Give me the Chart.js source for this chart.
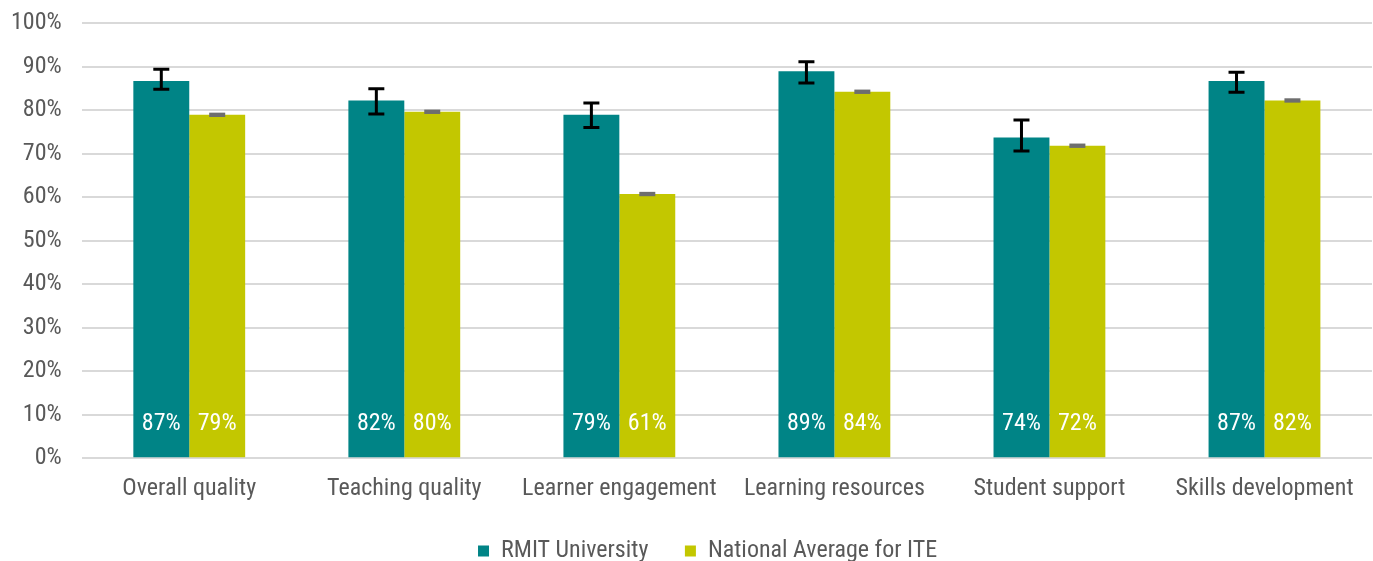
<!DOCTYPE html>
<html lang="en">
<head>
    <meta charset="UTF-8">
    <title>Student experience</title>
    <style>
        body { margin: 0; padding: 0; background: #fff; }
        .wrap { width: 1373px; height: 561px; position: relative; }
    </style>
    <script src="https://cdn.jsdelivr.net/npm/chart.js"></script>
</head>
<body>
    <div class="wrap"><canvas id="qiltChart"></canvas></div>

    <script>
        const categories = ['Overall quality', 'Teaching quality', 'Learner engagement', 'Learning resources', 'Student support', 'Skills development'];
        const rmitValues = [86.7, 82.2, 78.9, 88.9, 73.7, 86.7];
        const rmitLow = [84.8, 79.1, 76.0, 86.2, 70.6, 84.1];
        const rmitHigh = [89.4, 84.9, 81.6, 91.1, 77.7, 88.7];
        const nationalValues = [78.9, 79.6, 60.7, 84.2, 71.8, 82.2];
        const nationalLow = [78.4, 79.1, 60.2, 83.7, 71.3, 81.7];
        const nationalHigh = [79.4, 80.1, 61.2, 84.7, 72.3, 82.7];
        const yTicks = [0, 10, 20, 30, 40, 50, 60, 70, 80, 90, 100];

        const fontFamily = '"Liberation Sans Narrow", "Roboto Condensed", "Arial Narrow", Roboto, sans-serif';
        const teal = '#008486';
        const lime = '#c3c700';

        // error bars + value labels at the foot of each bar
        const barExtras = {
            id: 'barExtras',
            afterDatasetsDraw(chart) {
                const ctx = chart.ctx;
                const y = chart.scales.y;
                const sets = [
                    { low: rmitLow, high: rmitHigh, colour: '#000' },
                    { low: nationalLow, high: nationalHigh, colour: '#6e6e6e' }
                ];
                ctx.save();
                sets.forEach((s, i) => {
                    const meta = chart.getDatasetMeta(i);
                    meta.data.forEach((bar, j) => {
                        const top = y.getPixelForValue(s.high[j]);
                        const bottom = y.getPixelForValue(s.low[j]);
                        const half = 8;
                        if (i === 0) {
                            ctx.strokeStyle = s.colour;
                            ctx.lineWidth = 3;
                            ctx.beginPath();
                            ctx.moveTo(bar.x, top);
                            ctx.lineTo(bar.x, bottom);
                            ctx.moveTo(bar.x - half, top);
                            ctx.lineTo(bar.x + half, top);
                            ctx.moveTo(bar.x - half, bottom);
                            ctx.lineTo(bar.x + half, bottom);
                            ctx.stroke();
                        } else {
                            ctx.fillStyle = s.colour;
                            ctx.fillRect(bar.x - half, top, half * 2, bottom - top);
                        }
                        const v = chart.data.datasets[i].data[j];
                        ctx.fillStyle = '#fff';
                        ctx.font = '24px ' + fontFamily;
                        ctx.textAlign = 'center';
                        ctx.textBaseline = 'middle';
                        ctx.fillText(Math.round(v) + '%', bar.x, y.getPixelForValue(7.8));
                    });
                });
                ctx.restore();
            }
        };

        new Chart(document.getElementById('qiltChart'), {
            type: 'bar',
            data: {
                labels: categories,
                datasets: [{
                    label: 'RMIT University',
                    data: rmitValues,
                    backgroundColor: teal,
                    categoryPercentage: 0.52,
                    barPercentage: 1
                }, {
                    label: 'National Average for ITE',
                    data: nationalValues,
                    backgroundColor: lime,
                    categoryPercentage: 0.52,
                    barPercentage: 1
                }]
            },
            options: {
                responsive: true,
                maintainAspectRatio: false,
                animation: false,
                layout: { padding: { top: 0, right: 1, left: -9, bottom: -12 } },
                plugins: {
                    tooltip: { enabled: false },
                    legend: {
                        position: 'bottom',
                        fullSize: false,
                        labels: {
                            boxWidth: 11,
                            boxHeight: 11,
                            padding: 20,
                            color: '#595959',
                            font: { family: fontFamily, size: 24 },
                            generateLabels(chart) {
                                // pad the texts a little so the items sit where the original put them
                                const items = Chart.defaults.plugins.legend.labels.generateLabels(chart);
                                items[0].text += '   ';
                                items[1].text += '       ';
                                return items;
                            }
                        }
                    }
                },
                scales: {
                    x: {
                        grid: { display: false, drawTicks: false },
                        border: { display: false },
                        ticks: {
                            color: '#595959',
                            padding: 16,
                            maxRotation: 0,
                            font: { family: fontFamily, size: 24 }
                        }
                    },
                    y: {
                        min: 0,
                        max: 100,
                        afterBuildTicks(axis) {
                            axis.ticks = yTicks.map(v => ({ value: v }));
                        },
                        afterFit(axis) {
                            axis.paddingTop = 23;
                        },
                        grid: { color: '#d9d9d9', lineWidth: 2, drawTicks: false },
                        border: { display: false },
                        ticks: {
                            color: '#595959',
                            padding: 20,
                            callback: v => v + '%',
                            font: { family: fontFamily, size: 24 }
                        }
                    }
                }
            },
            plugins: [barExtras]
        });
    </script>
</body>
</html>
